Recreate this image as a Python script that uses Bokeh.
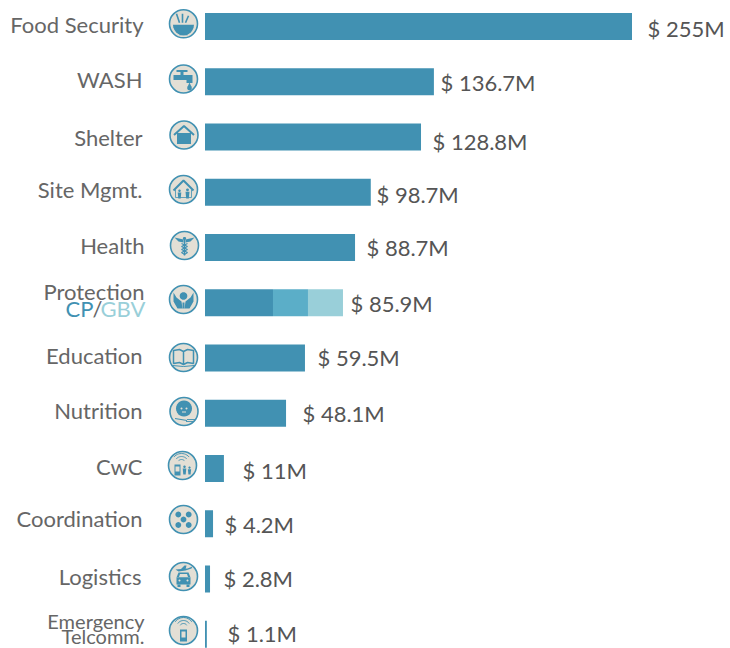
import math
from bokeh.plotting import figure
from bokeh.models import Range1d, ColumnDataSource
from bokeh.core.properties import value
from bokeh.embed import file_html
from bokeh.resources import INLINE

# ---- data ----
sectors = ["Food Security", "WASH", "Shelter", "Site Mgmt.", "Health", "Protection", "Education",
           "Nutrition", "CwC", "Coordination", "Logistics", "Emergency"]
totals = [255, 136.7, 128.8, 98.7, 88.7, 85.9, 59.5, 48.1, 11, 4.2, 2.8, 1.1]
bar_values = [255, 136.7, 129, 99, 89.6, 0, 59.7, 48.4, 11.3, 4.8, 3, 1.1]
protection_parts = [40.6, 20.9, 20.9]
BLUE, MID, LIGHT, GREY, VAL = "#4191B2", "#5BAEC8", "#99CFD9", "#666666", "#555555"

# ---- layout (picture pixels) ----
W, H = 730, 648
X0, PX_PER_M = 204.5, 427 / 255
ROW0, ROW_H, BAR_H = 26, 55.25, 27
def xd(px): return (px - X0) / PX_PER_M
def yd(py): return (py - ROW0) / ROW_H

p = figure(width=W, height=H, output_backend="svg", toolbar_location=None,
           x_range=Range1d(xd(0), xd(W)), y_range=Range1d(yd(H), yd(0)),
           min_border=0, min_border_left=0, min_border_right=0, min_border_top=0, min_border_bottom=0)
p.axis.visible = False
p.grid.visible = False
p.outline_line_color = None

rows = list(range(len(sectors)))
bar_h = BAR_H / ROW_H
p.hbar(y=rows, left=0, right=bar_values, height=bar_h, fill_color=BLUE, line_color=None)
prow = sectors.index("Protection")
left = 0
for v, c in zip(protection_parts, [BLUE, MID, LIGHT]):
    p.hbar(y=[prow], left=[left], right=[left + v], height=bar_h, fill_color=c, line_color=None)
    left += v

# value labels
val_x = [647, 440, 432, 376, 366, 350, 317, 302, 242, 224, 223, 227]
val_y = [27.5, 81.5, 140.5, 193.5, 246.5, 302.5, 356.5, 412.5, 469.5, 523.5, 577.5, 632.5]
p.text(x=[xd(v) for v in val_x], y=[yd(v) for v in val_y], text=[f"$ {t:g}M" for t in totals],
       text_font=value("Lato"), text_font_size="22px", text_color=VAL,
       text_align="left", text_baseline="middle")

# sector labels
lab_txt = ["Food Security", "WASH", "Shelter", "Site Mgmt.", "Health", "Protection", "Education",
           "Nutrition", "CwC", "Coordination", "Logistics"]
lab_x = [143, 142, 142, 142, 144, 144, 142, 142, 142, 142, 141]
lab_y = [24, 79, 137, 189, 245, 291, 355, 410, 466, 518, 576]
p.text(x=[xd(v) for v in lab_x], y=[yd(v) for v in lab_y], text=lab_txt,
       text_font=value("Lato"), text_font_size="22px", text_color=GREY,
       text_align="right", text_baseline="middle")
p.text(x=[xd(144), xd(144)], y=[yd(620), yd(635.5)], text=["Emergency", "Telcomm."],
       text_font=value("Lato"), text_font_size="20px", text_color=GREY,
       text_align="right", text_baseline="middle")
for t, px, c in [("CP", 65, BLUE), ("/", 92, GREY), ("GBV", 100, LIGHT)]:
    p.text(x=[xd(px)], y=[yd(308)], text=[t], text_font=value("Lato"), text_font_size="22px",
           text_color=c, text_align="left", text_baseline="middle")

# ---- icons: local pixel drawings around each badge centre ----
def disc(cx, cy, r, n=24):
    return [(cx + r * math.cos(2 * math.pi * i / n), cy + r * math.sin(2 * math.pi * i / n)) for i in range(n)]
def arc(r, a1, a2, cx=0, cy=0, n=12):
    return [(cx + r * math.cos(math.radians(a1 + (a2 - a1) * i / n)),
             cy - r * math.sin(math.radians(a1 + (a2 - a1) * i / n))) for i in range(n + 1)]
def rect(x1, y1, x2, y2):
    return [(x1, y1), (x2, y1), (x2, y2), (x1, y2)]
def person(cx, top, s=1.0):
    return [disc(cx, top + 1.2 * s, 1.3 * s, 10),
            [(cx - 1.8 * s, top + 3 * s), (cx + 1.8 * s, top + 3 * s), (cx + 1.2 * s, top + 9 * s), (cx - 1.2 * s, top + 9 * s)]]

icons = {
 "Food Security": dict(
    fill=[arc(10.5, 180, 360, 0, 1) , rect(-4, 10, 4, 11.5)],
    line=[([(-4, -1), (-7, -10)], 1.6), ([(-1, -1), (-1, -10)], 1.6), ([(2, -1), (5, -8)], 1.6)]),
 "WASH": dict(
    fill=[rect(-10, -4, 7, 1), rect(3, -4, 9, 4), rect(-3, -8, 0, -4), rect(-7, -9, 4, -7),
          disc(6, 9, 2.3), [(6, 3.5), (8, 8), (4, 8)]], line=[]),
 "Shelter": dict(
    fill=[rect(-7, -2, 7, 9)], line=[([(-10, 0), (0, -9), (10, 0)], 2)]),
 "Site Mgmt.": dict(
    fill=person(-4, 0) + person(4, -1, 1.1), line=[([(-10, 1), (0, -9), (10, 1)], 2), ([(-8, 0), (-8, 8), (8, 8), (8, 0)], 0.8)]),
 "Health": dict(
    fill=[disc(0, -7, 1.6), [(-10, -8), (-1, -6), (-1, -3), (-6, -4)], [(10, -8), (1, -6), (1, -3), (6, -4)]],
    line=[([(0, -6), (0, 10)], 1.4), ([(-3, -2), (3, 1), (-3, 4), (3, 7), (0, 9)], 1.1), ([(3, -2), (-3, 1), (3, 4), (-3, 7), (0, 9)], 1.1)]),
 "Protection": dict(
    fill=[disc(0, -3.5, 3.8), [(-1, 3), (1, 3), (1, 9), (-1, 9)],
          [(-10, -7), (-7, -2), (-2, 2), (-1, 9), (-6, 9), (-10, 2)], [(10, -7), (7, -2), (2, 2), (1, 9), (6, 9), (10, 2)]], line=[]),
 "Education": dict(
    fill=[], line=[([(0, -6), (-4, -8), (-10, -7), (-10, 6), (-4, 5), (0, 7), (4, 5), (10, 6), (10, -7), (4, -8), (0, -6), (0, 7)], 1.5),
                   ([(-11, 8), (0, 9), (11, 8)], 1.0)]),
 "Nutrition": dict(
    fill=[disc(0, -3, 8)], light=[disc(-2.5, -3, 1), disc(2.5, -3, 1), rect(-2, 0, 2, 1)],
    line=[([(-9, 7), (-3, 8), (3, 9)], 1.2), ([(3, 8), (11, 8)], 0.9), ([(2, 10), (10, 10)], 0.9)]),
 "CwC": dict(
    fill=[rect(-8, -1, -2, 10)] + person(2, 0, 1.0) + person(7, 1, 0.9), light=[rect(-7, 1, -3, 6)],
    line=[(arc(4, 40, 140, -1, -2), 0.9), (arc(7, 40, 140, -1, -2), 0.9), (arc(10, 40, 140, -1, -2), 0.9)]),
 "Coordination": dict(
    fill=[disc(-5.2, -5, 2.9), disc(5.2, -5, 2.9), disc(0, 0, 2.9), disc(-5.2, 5.5, 2.9), disc(5.2, 5.5, 2.9)], line=[]),
 "Logistics": dict(
    fill=[rect(-7, 1, 7, 8), [(-5, -4), (5, -4), (7, 1), (-7, 1)], rect(-6, 8, -3, 10.5), rect(3, 8, 6, 10.5),
          [(-8, -7), (4, -8), (9, -10), (8, -8), (2, -6), (-5, -5)], [(-3, -7), (1, -11), (3, -11), (2, -7)]],
    light=[[(-3.5, -2.5), (3.5, -2.5), (4.5, 0.5), (-4.5, 0.5)], disc(-4, 4, 1), disc(4, 4, 1)], line=[]),
 "Emergency": dict(
    fill=[rect(-3.5, -1, 3.5, 11)], light=[rect(-2, 1, 2, 7)],
    line=[(arc(4, 35, 145, 0, -3), 1), (arc(7, 35, 145, 0, -3), 1), (arc(10, 35, 145, 0, -3), 1)]),
}
ic_x = [183, 183, 183.5, 183, 184, 183, 183, 183.5, 182, 183, 183, 183]
ic_y = [23.3, 78.5, 134.5, 189, 245, 299, 357, 411, 465, 519, 576, 630]
p.scatter(x=[xd(v) for v in ic_x], y=[yd(v) for v in ic_y], size=28, marker="circle",
          fill_color="#E3DFD5", line_color=BLUE, line_width=1.6)
fx, fy, lx, ly, lw, wx, wy = [], [], [], [], [], [], []
for name, cx, cy in zip(sectors, ic_x, ic_y):
    ic = icons[name]
    for poly in ic["fill"]:
        fx.append([xd(cx + a) for a, b in poly]); fy.append([yd(cy + b) for a, b in poly])
    for poly in ic.get("light", []):
        wx.append([xd(cx + a) for a, b in poly]); wy.append([yd(cy + b) for a, b in poly])
    for pts, w in ic["line"]:
        lx.append([xd(cx + a) for a, b in pts]); ly.append([yd(cy + b) for a, b in pts]); lw.append(w)
p.patches(fx, fy, fill_color=BLUE, line_color=None)
p.patches(wx, wy, fill_color="#E3DFD5", line_color=None)
p.multi_line(source=ColumnDataSource(dict(xs=lx, ys=ly, w=lw)), xs="xs", ys="ys",
             line_color=BLUE, line_width="w")

open("out.html", "w").write(file_html(p, INLINE))
